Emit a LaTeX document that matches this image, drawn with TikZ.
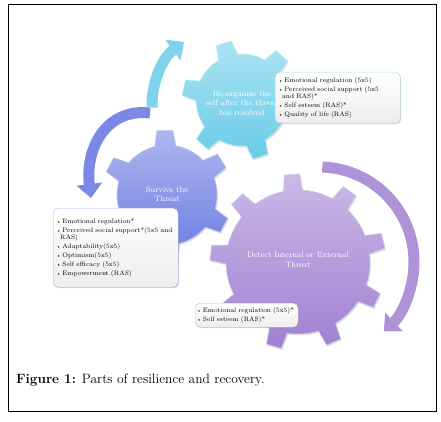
\documentclass[tikz,border=0pt]{standalone}
\usepackage{xcolor}
\usepackage{tikz}
\usetikzlibrary{arrows.meta,positioning,calc,shadows}
\definecolor{gcyan}{RGB}{104,204,232}
\definecolor{gblue}{RGB}{108,124,226}
\definecolor{gpurple}{RGB}{160,128,210}
\newcommand{\itm}{{\tiny\textbullet}\,}
% gear outline: options, centre, body radius, tip radius, teeth, first tooth angle, base half angle, tip half angle
\newcommand{\gearpath}[8]{%
  \pgfmathsetmacro{\gstep}{360/#5}%
  \pgfmathtruncatemacro{\glast}{#5-1}%
  \path[#1] ($(#2)+({#6-\gstep/2}:#3)$)
    \foreach \k in {0,...,\glast} {
      arc[start angle={#6+\k*\gstep-\gstep/2}, end angle={#6+\k*\gstep-#7}, radius=#3]
      -- ($(#2)+({#6+\k*\gstep-#8}:#4)$) -- ($(#2)+({#6+\k*\gstep+#8}:#4)$)
      -- ($(#2)+({#6+\k*\gstep+#7}:#3)$)
      arc[start angle={#6+\k*\gstep+#7}, end angle={#6+\k*\gstep+\gstep/2}, radius=#3]
    } -- cycle;}

\begin{document}
\begin{tikzpicture}[x=1pt, y=1pt, >=Latex]
  \tikzset{band/.style={line width=11pt, -{Triangle[width=25pt,length=14pt]}},gearshade/.style={draw=#1!45!white, line width=0.6pt, top color=#1!55!white, bottom color=#1, drop shadow={opacity=0.25, shadow xshift=1pt, shadow yshift=-1.5pt}},geartext/.style={text=white, align=center, font=\fontsize{8}{9.5}\selectfont},infobox/.style={draw=#1!60!white, rounded corners=5pt, top color=white, bottom color=gray!14, align=left, anchor=north west, inner xsep=3pt, font=\fontsize{6.5}{6.5}\selectfont, drop shadow={opacity=0.3, shadow xshift=1pt, shadow yshift=-1pt}}}
  \useasboundingbox (0,0) rectangle (441,-422);
  \draw[line width=0.8pt] (8,-4.5) rectangle (436.5,-411);

  % curved arrows
  \draw[band, draw=gpurple!85!white] (319,-262) ++(88:95) arc[start angle=88, end angle=-47, radius=95];
  \draw[band, draw=gblue!90!white] (150,-113) .. controls (105,-108) and (85,-150) .. (91,-198);
  \draw[band, draw=gcyan!85!white] (230,-105) ++(182:78) arc[start angle=182, end angle=126, radius=78];

  % gears
  \gearpath{gearshade=gblue}{167,-195}{50}{65}{6}{92}{12}{7}
  \gearpath{gearshade=gcyan}{242,-100}{46}{60}{6}{108}{12.5}{7.5}
  \gearpath{gearshade=gpurple}{298,-262}{72}{88}{9}{94}{7.5}{5}
  \node[geartext] (reorg) at (242,-103) {Re-organize the\\self after the threat\\has resolved};
  \node[geartext] (survive) at (167,-194) {Survive the\\Threat};
  \node[geartext] (detect) at (298,-260) {Detect Internal or External\\Threat};

  % lists
  \node[infobox=gcyan, text width=119pt, minimum height=51pt] (reorgbox) at (275,-72) {\itm Emotional regulation (5x5)\\[2.5pt]\itm Perceived social support (5x5\\\hspace*{4pt}and RAS)*\\[2.5pt]\itm Self esteem (RAS)*\\[2.5pt]\itm Quality of life (RAS)};
  \node[infobox=gblue, text width=119pt, minimum height=79pt] (survivebox) at (53,-208) {\itm Emotional regulation*\\[2.5pt]\itm Perceived social support*(5x5 and\\\hspace*{4pt}RAS)\\[2.5pt]\itm Adaptability(5x5)\\[2.5pt]\itm Optimism(5x5)\\[2.5pt]\itm Self efficacy (5x5)\\[2.5pt]\itm Empowerment (RAS)};
  \node[infobox=gpurple, text width=100pt, inner xsep=1.5pt, minimum height=24pt] (detectbox) at (195,-303) {\itm Emotional regulation (5x5)*\\[2pt]\itm Self esteem (RAS)*};

  \node[anchor=base west, inner sep=0pt, font=\fontsize{13.5}{15}\selectfont] (caption) at (16,-383) {\textbf{Figure 1:} Parts of resilience and recovery.};
\end{tikzpicture}
\end{document}
